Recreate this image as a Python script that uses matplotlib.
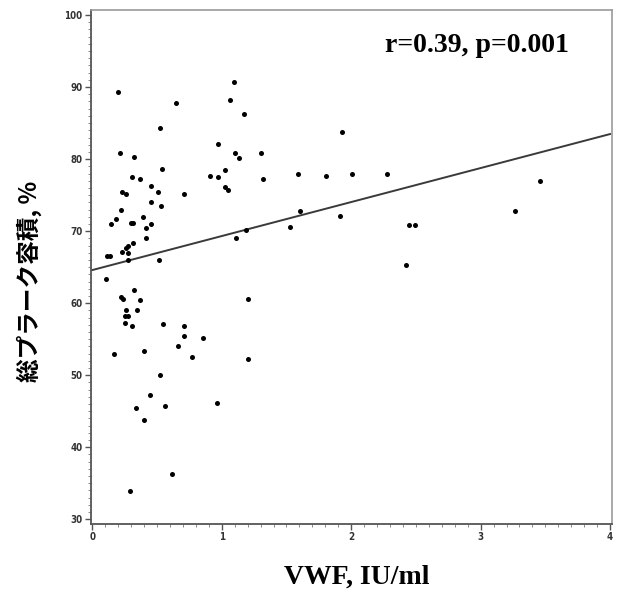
import numpy as np
import matplotlib
matplotlib.use("Agg")
import matplotlib.pyplot as plt
from matplotlib.ticker import MultipleLocator

# VWF (IU/ml) vs total plaque volume (%)
vwf = [0.195, 0.643, 0.522, 0.972, 0.212, 0.321, 0.542, 0.303, 0.372, 0.910,
       0.972, 0.452, 0.233, 0.264, 0.504, 0.707, 0.452, 0.532, 0.223, 0.393,
       0.184, 0.143, 0.300, 0.316, 0.452, 0.411, 0.411, 0.316, 0.272, 0.259,
       0.228, 0.272, 0.114, 0.135, 0.272, 0.514, 0.102, 0.321, 0.218, 0.236,
       0.372, 0.264, 0.344, 0.254, 0.277, 0.254, 0.303, 0.545, 0.712, 0.707,
       0.856, 0.663, 0.166, 0.396, 0.774, 0.522, 0.442, 0.962, 0.334, 0.558,
       0.396, 0.612, 0.290, 1.204, 1.204, 1.114, 1.190, 1.094, 1.065, 1.173,
       1.104, 1.134, 1.300, 1.024, 1.320, 1.026, 1.052, 1.928, 1.593, 1.808,
       2.005, 2.273, 1.602, 1.524, 1.910, 2.446, 2.490, 2.420, 3.263, 3.456]
plaque = [89.35, 87.8, 84.3, 82.1, 80.9, 80.3, 78.6, 77.5, 77.2, 77.6,
          77.5, 76.2, 75.4, 75.2, 75.4, 75.2, 74.1, 73.5, 72.9, 72.0,
          71.7, 71.0, 71.2, 71.1, 71.0, 70.4, 69.0, 68.3, 68.0, 67.6,
          67.1, 66.9, 66.6, 66.5, 66.0, 66.0, 63.4, 61.8, 60.8, 60.6,
          60.5, 59.1, 59.1, 58.2, 58.2, 57.2, 56.85, 57.1, 56.85, 55.4,
          55.2, 54.0, 52.9, 53.4, 52.55, 50.0, 47.2, 46.2, 45.5, 45.75,
          43.85, 36.3, 33.9, 52.2, 60.65, 69.0, 70.2, 90.7, 88.2, 86.25,
          80.8, 80.2, 80.9, 78.5, 77.2, 76.15, 75.7, 83.7, 78.0, 77.7,
          78.0, 78.0, 72.8, 70.55, 72.1, 70.8, 70.9, 65.3, 72.8, 76.9]

# regression line
intercept = 64.6
slope = 4.72
x_ticks = [0, 1, 2, 3, 4]
y_ticks = [30, 40, 50, 60, 70, 80, 90, 100]

fig = plt.figure(figsize=(6.17, 5.92), dpi=100)
ax = fig.add_axes([0.1475, 0.1149, 0.8444, 0.8682])

ax.scatter(vwf, plaque, s=13, color="black", zorder=3, linewidths=0)
xl = np.array([0, 4.0])
ax.plot(xl, intercept + slope * xl, color="#3a3a3a", lw=1.4, zorder=2)

ax.set_xlim(-0.01, 4.015)
ax.set_ylim(29.35, 100.7)
ax.set_xticks(x_ticks)
ax.set_yticks(y_ticks)
ax.xaxis.set_minor_locator(MultipleLocator(0.1))
ax.yaxis.set_minor_locator(MultipleLocator(1))

for side in ["left", "bottom"]:
    ax.spines[side].set_color("#555555")
    ax.spines[side].set_linewidth(1.3)
for side in ["top", "right"]:
    ax.spines[side].set_color("#9a9a9a")
    ax.spines[side].set_linewidth(1.2)

ax.tick_params(axis="both", which="major", length=4, width=1.0, color="#555555",
               labelsize=7, labelcolor="#333333", pad=2)
ax.tick_params(axis="both", which="minor", length=2, width=0.6, color="#777777")
for lab in ax.get_xticklabels() + ax.get_yticklabels():
    lab.set_fontweight("bold")
    lab.set_fontstretch("condensed")

ax.text(0.564, 0.93, "r=0.39, p=0.001", transform=ax.transAxes,
        family="Liberation Serif", fontweight="bold", fontsize=20,
        ha="left", va="center")

fig.text(0.578, 0.004, "VWF, IU/ml", family="Liberation Serif",
         fontweight="bold", fontsize=20, ha="center", va="bottom")
fig.text(0.048, 0.525, "総プラーク容積, %", family=["Noto Sans CJK JP", "DejaVu Sans"],
         fontweight="bold", fontsize=17, rotation=90, ha="center", va="center")

fig.savefig("out.png", dpi=100)
